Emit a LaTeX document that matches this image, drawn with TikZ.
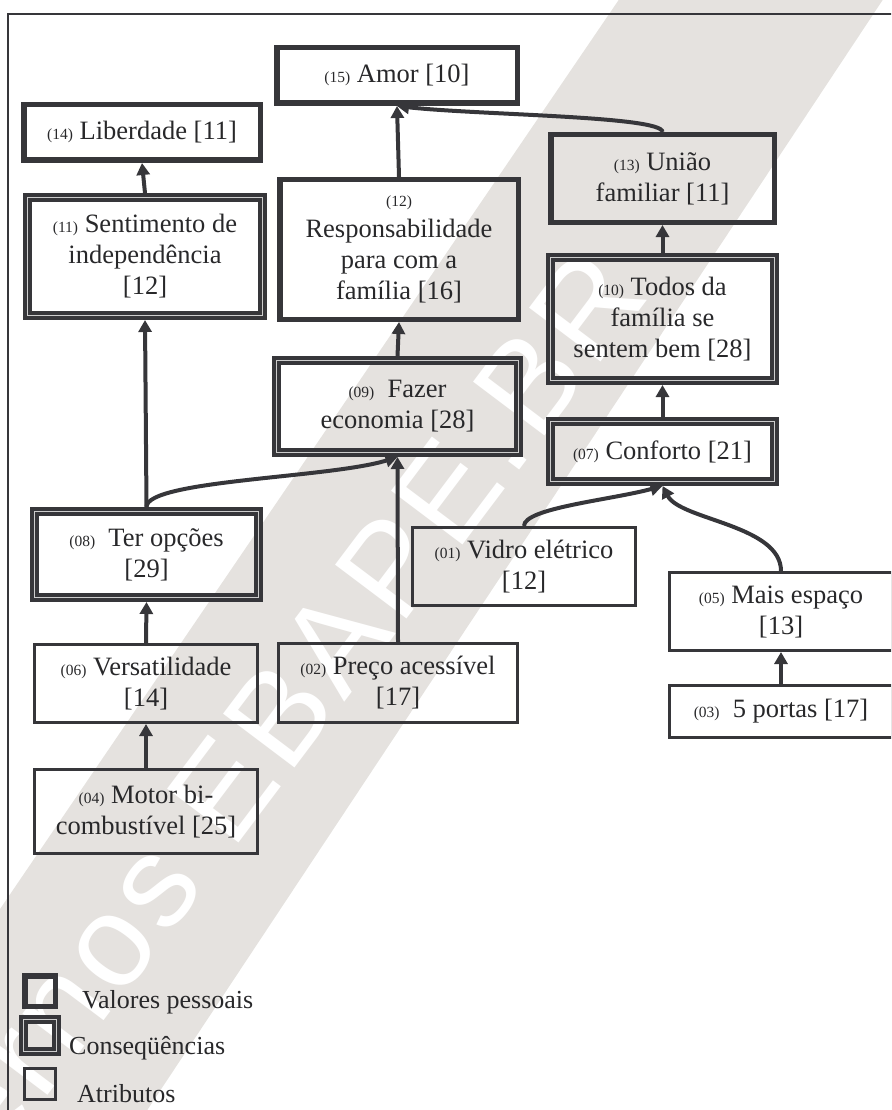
\documentclass[tikz,border=0pt]{standalone}
\usepackage{fontspec}
\setmainfont{Liberation Serif}
\newfontfamily\wmfont[LetterSpace=5]{Liberation Sans}
\usetikzlibrary{arrows.meta}
\definecolor{dk}{RGB}{54,54,58}
\definecolor{txt}{RGB}{40,40,42}
\definecolor{band}{RGB}{229,226,223}
\definecolor{dbl}{RGB}{205,205,205}
\newcommand{\nlab}[1]{{\fontsize{15.5}{18}\selectfont #1}}
\begin{document}
\begin{tikzpicture}[x=1pt,y=-1pt,
  box/.style={rectangle, inner sep=0pt, align=center, text=txt,
    font=\fontsize{26.5}{31}\selectfont},
  vp/.style={box, draw=dk, line width=5.5pt, outer sep=2.75pt},
  cons/.style={box, draw=dk, double=dbl, double distance=0.9pt,
    line width=4.2pt, outer sep=4.65pt},
  attr/.style={box, draw=dk, line width=2.7pt, outer sep=1.35pt},
  arr/.style={draw=dk, line width=4pt, -{Triangle[length=12pt,width=13pt]}},
  legtext/.style={anchor=base west, inner sep=0pt, text=txt,
    font=\fontsize{26}{31}\selectfont}]
\useasboundingbox (0,0) rectangle (891,1110);
\clip (0,0) rectangle (891,1110);
% watermark band
\fill[band] (620,-2) -- (884,-2) -- (146,1112) -- (-2,1112) -- (-2,912) -- cycle;
\node[text=white, rotate=53, inner sep=0pt, font=\wmfont\fontsize{130}{130}\selectfont]
  (wm) at (288,704) {ernos EBAPE.BR};
% frame
\draw[dk, line width=2pt] (8,1115) -- (8,14) -- (895,14);
% values
\node[vp, minimum width=240.5pt, minimum height=55.5pt] (n15) at (397,75.5) {\nlab{(15)} Amor [10]};
\node[vp, minimum width=236.5pt, minimum height=55.5pt] (n14) at (142,132.5) {\nlab{(14)} Liberdade [11]};
\node[vp, minimum width=238.5pt, minimum height=139.5pt] (n12) at (399,249.5) {\nlab{(12)}\\Responsabilidade\\para com a\\família [16]};
\node[vp, minimum width=223.5pt, minimum height=87.5pt] (n13) at (662.5,178.5) {\nlab{(13)} União\\familiar [11]};
% consequences
\node[cons, minimum width=234.7pt, minimum height=117.7pt] (n11) at (145,256.5) {\nlab{(11)} Sentimento de\\independência\\{}[12]};
\node[cons, minimum width=223.7pt, minimum height=122.7pt] (n10) at (662.5,319) {\nlab{(10)} Todos da\\família se\\sentem bem [28]};
\node[cons, minimum width=241.7pt, minimum height=91.7pt] (n09) at (397.5,406.5) {\nlab{(09)}\ \ Fazer\\economia [28]};
\node[cons, minimum width=223.7pt, minimum height=59.7pt] (n07) at (662.5,451.5) {\nlab{(07)} Conforto [21]};
\node[cons, minimum width=223.7pt, minimum height=85.7pt] (n08) at (146.5,554.5) {\nlab{(08)}\ \ Ter opções\\{}[29]};
% attributes
\node[attr, minimum width=223.3pt, minimum height=78.3pt] (n01) at (524,566.5) {\nlab{(01)} Vidro elétrico\\{}[12]};
\node[attr, minimum width=223.3pt, minimum height=78.3pt] (n06) at (146,683.5) {\nlab{(06)} Versatilidade\\{}[14]};
\node[attr, minimum width=239.3pt, minimum height=79.3pt] (n02) at (398,683) {\nlab{(02)} Preço acessível\\{}[17]};
\node[attr, minimum width=223.3pt, minimum height=78.3pt] (n05) at (781,611.5) {\nlab{(05)} Mais espaço\\{}[13]};
\node[attr, minimum width=223.3pt, minimum height=52.3pt] (n03) at (781,711.5) {\nlab{(03)}\ \ 5 portas [17]};
\node[attr, minimum width=223.3pt, minimum height=84.3pt] (n04) at (146,811.5) {\nlab{(04)} Motor bi-\\combustível [25]};
% connectors
\draw[arr] (n11.north) -- (n14.south);
\draw[arr] (n12.north) -- (n15.south);
\draw[arr] (n13.north) .. controls +(0,-16) and +(80,9) .. (n15.south);
\draw[arr] (n09.north) -- (n12.south);
\draw[arr] (n08.north) -- (n11.south);
\draw[arr] (n08.north) .. controls +(0,-27) and +(-67,21) .. (n09.south);
\draw[arr] (n02.north) -- (n09.south);
\draw[arr] (n06.north) -- (n08.south);
\draw[arr] (n04.north) -- (n06.south);
\draw[arr] (n10.north) -- (n13.south);
\draw[arr] (n07.north) -- (n10.south);
\draw[arr] (n01.north) .. controls +(0,-18) and +(-52,14) .. (n07.south);
\draw[arr] (n05.north) .. controls +(0,-46) and +(18,34) .. (n07.south);
\draw[arr] (n03.north) -- (n05.south);
% legend
\node[vp, minimum width=30.5pt, minimum height=30.5pt] (lvp) at (40,991) {};
\node[cons, minimum width=32.7pt, minimum height=31.7pt] (lcons) at (40,1035.5) {};
\node[attr, minimum width=31.3pt, minimum height=31.3pt] (lattr) at (40,1084) {};
\node[legtext] (tvp) at (82,1008) {Valores pessoais};
\node[legtext] (tcons) at (69,1054) {Conseqüências};
\node[legtext] (tattr) at (77,1102) {Atributos};
\end{tikzpicture}
\end{document}
